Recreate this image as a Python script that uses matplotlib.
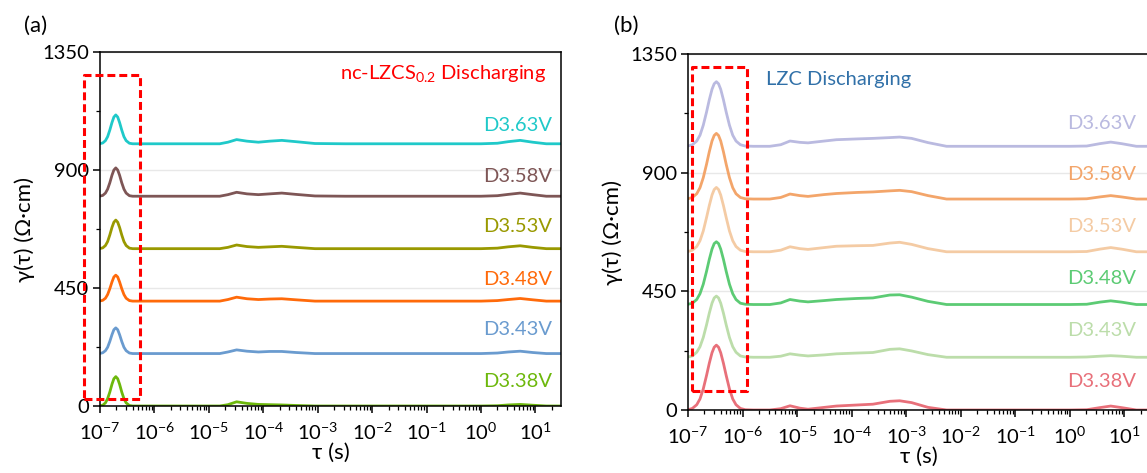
import numpy as np
import matplotlib
matplotlib.use("Agg")
import matplotlib.pyplot as plt
from matplotlib.ticker import MultipleLocator, LogLocator, NullFormatter

plt.rcParams['font.family'] = ['Lato', 'DejaVu Sans']
plt.rcParams['mathtext.fontset'] = 'custom'
plt.rcParams['mathtext.rm'] = 'Lato'
plt.rcParams['mathtext.it'] = 'Lato:italic'
plt.rcParams['mathtext.bf'] = 'Lato:bold'

# ---- donnees ----
labels = ['D3.38V', 'D3.43V', 'D3.48V', 'D3.53V', 'D3.58V', 'D3.63V']
offsets = [0, 200, 400, 600, 800, 1000]

# (a) nc-LZCS0.2 : log10(tau) et gamma (sans decalage)
log_tau_a = [-7.0, -6.95, -6.9, -6.86, -6.82, -6.78, -6.745, -6.71, -6.675, -6.64, -6.6, -6.56, -6.52,
             -6.46, -6.4,
             -6.2, -5.8, -5.2, -4.8, -4.65, -4.49, -4.3, -4.09, -3.88, -3.66, -3.4, -3.05,
             -2.5, -2.0, -1.5, -1.0, -0.5, 0.0, 0.3, 0.5, 0.72, 0.95, 1.2, 1.47]
a_338 = [0.7, 3, 12, 28, 53, 83, 104, 112, 104, 83, 53, 28, 12, 2, 0,
         0, 0, 0, 0, 5, 16, 10, 6, 5, 4, 2, 0,
         0, 0, 0, 0, 0, 0, 1, 4, 6, 3, 0, 0]
a_343 = [0.6, 3, 11, 24, 46, 72, 91, 98, 91, 72, 46, 24, 11, 2, 0,
         0, 0, 0, 0, 6, 14, 9, 6, 8, 8, 4, 0,
         0, 0, 0, 0, 0, 0, 2, 6, 9, 4, 0, 0]
a_348 = [0.6, 3, 11, 25, 47, 73, 92, 99, 92, 73, 47, 25, 11, 2, 0,
         0, 0, 0, 0, 6, 15, 9, 6, 8, 9, 5, 0,
         0, 0, 0, 0, 0, 0, 2, 6, 10, 5, 0, 0]
a_353 = [0.7, 3, 12, 27, 52, 81, 101, 109, 101, 81, 52, 27, 12, 2, 0,
         0, 0, 0, 0, 5, 14, 8, 5, 7, 9, 5, 0,
         0, 0, 0, 0, 0, 0, 2, 7, 11, 5, 0, 0]
a_358 = [0.6, 3, 12, 27, 51, 80, 100, 108, 100, 80, 51, 27, 12, 2, 0,
         0, 0, 0, 0, 6, 15, 9, 6, 9, 12, 7, 1,
         0, 0, 0, 0, 0, 0, 2, 7, 12, 6, 0, 0]
a_363 = [0.7, 3, 12, 27, 52, 81, 102, 110, 102, 81, 52, 27, 12, 2, 0,
         0, 0, 0, 0, 6, 16, 10, 6, 10, 13, 8, 1,
         0, 0, 0, 0, 0, 0, 2, 8, 13, 6, 0, 0]

# (b) LZC
log_tau_b = [-7.0, -6.92, -6.84, -6.78, -6.72, -6.66, -6.61, -6.56, -6.52, -6.48, -6.44, -6.40, -6.35,
             -6.30, -6.24, -6.18, -6.12, -6.04, -5.95,
             -5.8, -5.5, -5.3, -5.13, -4.95, -4.8, -4.5, -4.28, -3.9, -3.61, -3.3, -3.12, -2.9, -2.6,
             -2.26, -1.5, -0.5, 0.0, 0.31, 0.55, 0.75, 0.95, 1.22, 1.47]
b_338 = [1, 6, 20, 42, 80, 131, 177, 217, 238, 246, 238, 217, 177, 131, 80, 42, 20, 6, 1,
         0, 0, 5, 16, 7, 3, 10, 15, 19, 22, 33, 35, 28, 10,
         0, 0, 0, 0, 1, 9, 15, 9, 0, 0]
b_343 = [1, 5, 19, 40, 75, 123, 167, 205, 225, 232, 225, 205, 167, 123, 75, 40, 19, 5, 1,
         0, 0, 4, 13, 8, 5, 9, 13, 16, 18, 30, 32, 24, 10,
         0, 0, 0, 0, 1, 4, 6, 4, 0, 0]
b_348 = [1, 5, 19, 41, 77, 126, 171, 210, 231, 238, 231, 210, 171, 126, 77, 41, 19, 5, 1,
         0, 0, 6, 19, 13, 10, 15, 19, 23, 25, 36, 37, 28, 12,
         0, 0, 0, 0, 1, 9, 14, 9, 0, 0]
b_353 = [1, 6, 20, 42, 79, 130, 175, 215, 236, 244, 236, 215, 175, 130, 79, 42, 20, 6, 1,
         0, 0, 6, 19, 12, 9, 16, 21, 23, 24, 33, 36, 28, 12,
         0, 0, 0, 0, 1, 10, 16, 10, 0, 0]
b_358 = [1, 6, 20, 43, 81, 132, 179, 220, 241, 249, 241, 220, 179, 132, 81, 43, 20, 6, 1,
         0, 0, 6, 19, 13, 10, 17, 21, 25, 27, 31, 33, 28, 13,
         0, 0, 0, 0, 1, 8, 13, 8, 0, 0]
b_363 = [1, 6, 20, 42, 80, 130, 176, 216, 237, 245, 237, 216, 176, 130, 80, 42, 20, 6, 1,
         0, 0, 6, 20, 15, 13, 20, 25, 28, 30, 33, 35, 30, 14,
         0, 0, 0, 0, 1, 10, 16, 10, 0, 0]

colors_a = ['#6DB80C', '#6A9BCF', '#FF6A0A', '#999900', '#7E5656', '#1FC9C9']
colors_b = ['#E8707A', '#BCDDAA', '#5CCB74', '#F4CBA4', '#F3A56A', '#BABAE0']

# cadres rouges (log10 tau, gamma)
box_a = (-7.29, -6.26, 25, 1261)
box_b = (-6.93, -5.91, 73, 1302)

label_y_a = [93, 290, 484, 683, 874, 1068]
label_y_b = [107, 303, 499, 695, 894, 1087]

fig = plt.figure(figsize=(11.47, 4.73), dpi=100)
ax_a = fig.add_axes([100 / 1147, 1 - 406 / 473, 461 / 1147, 354 / 473])
ax_b = fig.add_axes([688 / 1147, 1 - 410 / 473, 462 / 1147, 356 / 473])


def style_axis(ax):
    ax.set_xscale('log')
    ax.set_xlim(1e-7, 10 ** 1.47)
    ax.set_ylim(0, 1350)
    ax.set_yticks([0, 450, 900, 1350])
    ax.yaxis.set_minor_locator(MultipleLocator(225))
    ax.xaxis.set_major_locator(LogLocator(base=10, numticks=20))
    ax.xaxis.set_minor_locator(LogLocator(base=10, subs=np.arange(2, 10), numticks=20))
    ax.xaxis.set_minor_formatter(NullFormatter())
    ax.tick_params(which='major', direction='out', length=5, width=1.1, labelsize=14.5, pad=3)
    ax.tick_params(axis='x', which='major', pad=6)
    ax.tick_params(which='minor', direction='out', length=2.6, width=0.9)
    ax.grid(axis='y', which='major', color='#E8E8E8', lw=1)
    ax.set_axisbelow(True)
    for s in ax.spines.values():
        s.set_linewidth(1.1)
    ax.set_ylabel('γ(τ) (Ω·cm)', fontsize=16)
    ax.yaxis.set_label_coords(-0.14, 0.5)
    ax.set_xlabel('τ (s)', fontsize=16)
    ax.xaxis.set_label_coords(0.5, -0.104)


def draw_box(ax, box):
    x0, x1, y0, y1 = box
    xs = [10 ** x0, 10 ** x1, 10 ** x1, 10 ** x0, 10 ** x0]
    ys = [y0, y0, y1, y1, y0]
    ax.plot(xs, ys, color='red', lw=2.2, linestyle=(0, (2.6, 1.3)), clip_on=False, zorder=5)


curves_a = [a_338, a_343, a_348, a_353, a_358, a_363]
curves_b = [b_338, b_343, b_348, b_353, b_358, b_363]

tau_a = 10 ** np.array(log_tau_a)
tau_b = 10 ** np.array(log_tau_b)

for g, off, c, lab, ly in zip(curves_a, offsets, colors_a, labels, label_y_a):
    ax_a.plot(tau_a, np.array(g) + off, color=c, lw=2.0)
    ax_a.text(0.98, ly, lab, color=c, fontsize=14.5, ha='right', va='center',
              transform=ax_a.get_yaxis_transform())

for g, off, c, lab, ly in zip(curves_b, offsets, colors_b, labels, label_y_b):
    ax_b.plot(tau_b, np.array(g) + off, color=c, lw=2.0)
    ax_b.text(0.971, ly, lab, color=c, fontsize=14.5, ha='right', va='center',
              transform=ax_b.get_yaxis_transform())

style_axis(ax_a)
style_axis(ax_b)
draw_box(ax_a, box_a)
draw_box(ax_b, box_b)

ax_a.text(0.967, 0.94, 'nc-LZCS$_{0.2}$ Discharging', color='red', fontsize=14.5,
          ha='right', va='center', transform=ax_a.transAxes)
ax_b.text(0.169, 0.927, 'LZC Discharging', color='#3070A8', fontsize=14.5,
          ha='left', va='center', transform=ax_b.transAxes)

fig.text(36 / 1147, 1 - 26 / 473, '(a)', fontsize=16, ha='center', va='center')
fig.text(626 / 1147, 1 - 26 / 473, '(b)', fontsize=16, ha='center', va='center')

fig.savefig('out.png', dpi=100)
